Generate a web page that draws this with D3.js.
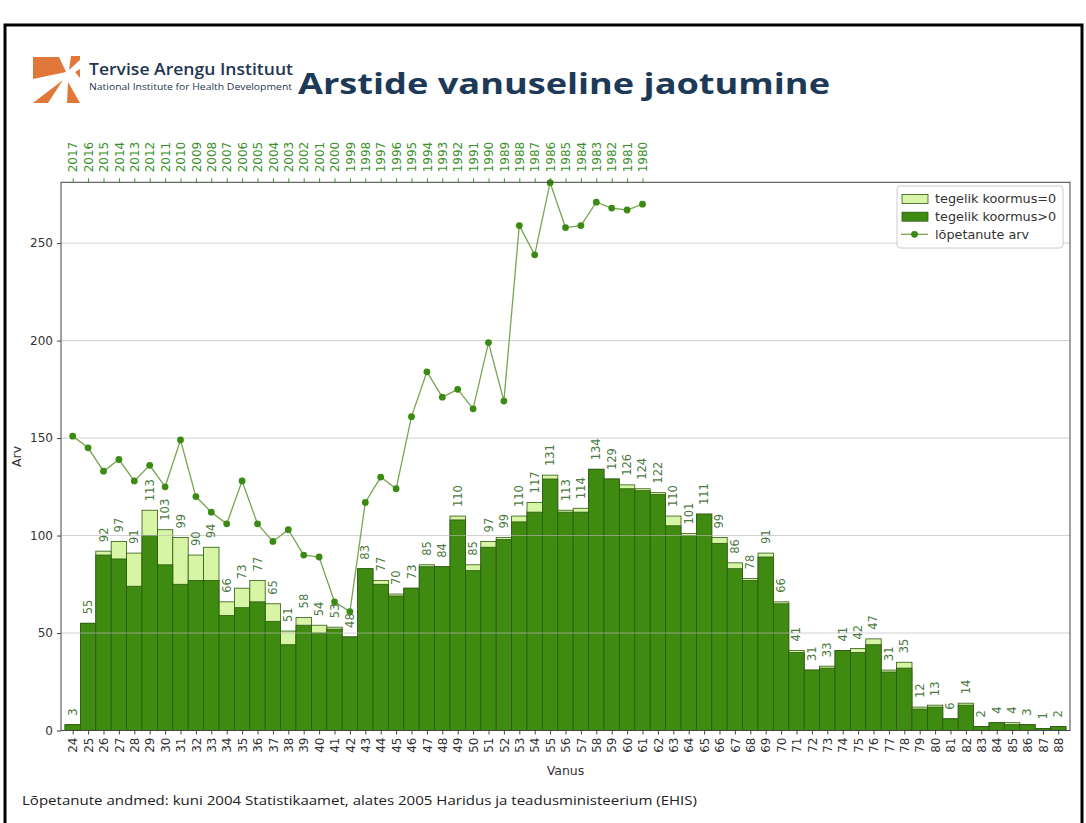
<!DOCTYPE html>
<html><head><meta charset="utf-8">
<script src="https://cdn.jsdelivr.net/npm/d3@7"></script>
<style>body{margin:0;background:#fff;} svg{display:block}</style>
</head><body>
<svg id="c" width="1086" height="823"></svg>
<script>
// ---- data ----
const ages = [24,25,26,27,28,29,30,31,32,33,34,35,36,37,38,39,40,41,42,43,44,45,46,47,48,49,50,51,52,53,54,55,56,57,58,59,60,61,62,63,64,65,66,67,68,69,70,71,72,73,74,75,76,77,78,79,80,81,82,83,84,85,86,87,88];
const totals = [3,55,92,97,91,113,103,99,90,94,66,73,77,65,51,58,54,53,48,83,77,70,73,85,84,110,85,97,99,110,117,131,113,114,134,129,126,124,122,110,101,111,99,86,78,91,66,41,31,33,41,42,47,31,35,12,13,6,14,2,4,4,3,1,2];
const active = [3,55,90,88,74,100,85,75,77,77,59,63,66,56,44,54,50,52,48,83,75,69,73,84,84,108,82,94,98,107,112,129,112,112,134,129,124,123,121,105,100,111,96,83,77,89,65,40,31,32,41,40,44,30,32,11,12,6,13,2,4,3,3,1,2];
const gradAges = [24,25,26,27,28,29,30,31,32,33,34,35,36,37,38,39,40,41,42,43,44,45,46,47,48,49,50,51,52,53,54,55,56,57,58,59,60,61];
const gradYears = [2017,2016,2015,2014,2013,2012,2011,2010,2009,2008,2007,2006,2005,2004,2003,2002,2001,2000,1999,1998,1997,1996,1995,1994,1993,1992,1991,1990,1989,1988,1987,1986,1985,1984,1983,1982,1981,1980];
const graduates = [151,145,133,139,128,136,125,149,120,112,106,128,106,97,103,90,89,66,61,117,130,124,161,184,171,175,165,199,169,259,244,281,258,259,271,268,267,270];
const yTicks = [0,50,100,150,200,250];
const legendLabels = ["tegelik koormus=0","tegelik koormus>0","lõpetanute arv"];
const title = "Arstide vanuseline jaotumine";
const orgName = "Tervise Arengu Instituut";
const orgNameEn = "National Institute for Health Development";
const footnote = "Lõpetanute andmed: kuni 2004 Statistikaamet, alates 2005 Haridus ja teadusministeerium (EHIS)";

// ---- styles ----
const DARK = "#3f8b12", LIGHT = "#d8f5a6", EDGE = "#2c5a10";
const LINE = "#78a650", MARK = "#3b8a12";
const LABEL = "#4d7a42", YEARC = "#3a8f2a";
const FONT = "DejaVu Sans, sans-serif";

const svg = d3.select("#c");

// frame
svg.append("rect").attr("x",5).attr("y",25).attr("width",1077).attr("height",820)
  .attr("fill","none").attr("stroke","#000").attr("stroke-width",3);

// logo
const logo = svg.append("g").attr("fill","#e2773a");
[
  [[33,57],[59,57],[66,72],[33,79]],
  [[71,56],[80,56],[80,60],[69,70]],
  [[75,72],[80,69],[80,78]],
  [[33,103],[48,103],[63,80]],
  [[68,82],[80,103],[67,103]]
].forEach(p => logo.append("polygon").attr("points", p.map(q=>q.join(",")).join(" ")));

svg.append("text").attr("x",89).attr("y",75).attr("font-family","Open Sans, sans-serif")
  .attr("font-weight",600).attr("font-size",16.5).attr("fill","#1f3550")
  .attr("textLength",204).attr("lengthAdjust","spacingAndGlyphs").text(orgName);
svg.append("text").attr("x",89).attr("y",90).attr("font-family","Open Sans, sans-serif")
  .attr("font-size",9.3).attr("fill","#1f3550")
  .attr("textLength",203).attr("lengthAdjust","spacingAndGlyphs").text(orgNameEn);

svg.append("text").attr("x",298).attr("y",94).attr("font-family","Open Sans, sans-serif")
  .attr("font-weight",700).attr("font-size",28).attr("fill","#1c3a57")
  .attr("textLength",532).attr("lengthAdjust","spacingAndGlyphs").text(title);

// ---- chart ----
const L=61, R=1070, T=182.3, B=730.5;
const x = d3.scaleLinear().domain([23.24, 88.76]).range([L, R]);
const y = d3.scaleLinear().domain([0, 281.2]).range([B, T]);
const bw = x(1) - x(0);

const bars = ages.map((a,i)=>({a, t: totals[i], v: active[i]}));

svg.append("g").selectAll("rect").data(bars).join("rect")
  .attr("x", d=>x(d.a-0.5)).attr("width", bw)
  .attr("y", d=>y(d.t)).attr("height", d=>y(0)-y(d.t))
  .attr("fill", LIGHT).attr("stroke", EDGE).attr("stroke-width",0.8);
svg.append("g").selectAll("rect").data(bars).join("rect")
  .attr("x", d=>x(d.a-0.5)).attr("width", bw)
  .attr("y", d=>y(d.v)).attr("height", d=>y(0)-y(d.v))
  .attr("fill", DARK).attr("stroke", EDGE).attr("stroke-width",0.8);

// grid on top (semi-transparent)
svg.append("g").selectAll("line").data(yTicks).join("line")
  .attr("x1",L).attr("x2",R).attr("y1",d=>y(d)).attr("y2",d=>y(d))
  .attr("stroke","#b8b8b8").attr("stroke-opacity",0.65).attr("stroke-width",1);

// bar value labels
svg.append("g").selectAll("text").data(bars).join("text")
  .attr("transform", d=>`translate(${x(d.a)+4},${y(d.t)-9}) rotate(-90)`)
  .attr("font-family",FONT).attr("font-size",11.5).attr("fill",LABEL)
  .text(d=>d.t);

// graduates line
const gdata = gradAges.map((a,i)=>({a, v: graduates[i]}));
svg.append("path").datum(gdata)
  .attr("d", d3.line().x(d=>x(d.a)).y(d=>y(d.v)))
  .attr("fill","none").attr("stroke",LINE).attr("stroke-width",1.3);
svg.append("g").selectAll("circle").data(gdata).join("circle")
  .attr("cx",d=>x(d.a)).attr("cy",d=>y(d.v)).attr("r",3.4).attr("fill",MARK);

// axes frame
svg.append("rect").attr("x",L).attr("y",T).attr("width",R-L).attr("height",B-T)
  .attr("fill","none").attr("stroke","#444").attr("stroke-width",1);

// y axis
const yAxis = d3.axisLeft(y).tickValues(yTicks).tickSize(4).tickPadding(4);
const gy = svg.append("g").attr("transform",`translate(${L},0)`).call(yAxis);
gy.select(".domain").remove();
gy.selectAll("text").attr("font-family",FONT).attr("font-size",12).attr("fill","#333");
gy.selectAll("line").attr("stroke","#444");

// x axis (bottom)
const xAxis = d3.axisBottom(x).tickValues(ages).tickFormat(d3.format("d")).tickSize(4).tickPadding(3);
const gx = svg.append("g").attr("transform",`translate(0,${B})`).call(xAxis);
gx.select(".domain").remove();
gx.selectAll("line").attr("stroke","#444");
gx.selectAll("text").attr("font-family",FONT).attr("font-size",12).attr("fill","#333")
  .attr("transform","rotate(-90)").attr("text-anchor","end")
  .attr("x",-7).attr("y",0).attr("dy","0.35em");

// top axis (years)
const yearOf = new Map(gradAges.map((a,i)=>[a, gradYears[i]]));
const xTop = d3.axisTop(x).tickValues(gradAges).tickFormat(a=>yearOf.get(a)).tickSize(4).tickPadding(3);
const gt = svg.append("g").attr("transform",`translate(0,${T})`).call(xTop);
gt.select(".domain").remove();
gt.selectAll("line").attr("stroke",YEARC);
gt.selectAll("text").attr("font-family",FONT).attr("font-size",12).attr("fill",YEARC)
  .attr("transform","rotate(-90)").attr("text-anchor","start")
  .attr("x",10).attr("y",0).attr("dy","0.35em");

// axis titles
svg.append("text").attr("transform",`translate(21,${(T+B)/2}) rotate(-90)`)
  .attr("text-anchor","middle").attr("font-family",FONT).attr("font-size",12.5).attr("fill","#333").text("Arv");
svg.append("text").attr("x",(L+R)/2).attr("y",775)
  .attr("text-anchor","middle").attr("font-family",FONT).attr("font-size",12.5).attr("fill","#333").text("Vanus");

// legend
const lg = svg.append("g").attr("transform","translate(897,186)");
lg.append("rect").attr("width",166).attr("height",62).attr("rx",3)
  .attr("fill","#fff").attr("fill-opacity",0.85).attr("stroke","#ccc");
const rows = [13, 30.7, 48.3];
lg.append("rect").attr("x",5).attr("y",rows[0]-4.5).attr("width",26).attr("height",9)
  .attr("fill",LIGHT).attr("stroke",EDGE).attr("stroke-width",0.8);
lg.append("rect").attr("x",5).attr("y",rows[1]-4.5).attr("width",26).attr("height",9)
  .attr("fill",DARK).attr("stroke",EDGE).attr("stroke-width",0.8);
lg.append("line").attr("x1",4).attr("x2",31).attr("y1",rows[2]).attr("y2",rows[2])
  .attr("stroke",LINE).attr("stroke-width",1.3);
lg.append("circle").attr("cx",17.5).attr("cy",rows[2]).attr("r",3.4).attr("fill",MARK);
legendLabels.forEach((t,i)=>lg.append("text").attr("x",38).attr("y",rows[i]).attr("dy","0.35em")
  .attr("font-family",FONT).attr("font-size",12.8).attr("fill","#333").text(t));

// footnote
svg.append("text").attr("x",22).attr("y",805).attr("font-family","Open Sans, sans-serif")
  .attr("font-size",12.5).attr("fill","#222")
  .attr("textLength",675).attr("lengthAdjust","spacingAndGlyphs").text(footnote);
</script>
</body></html>
